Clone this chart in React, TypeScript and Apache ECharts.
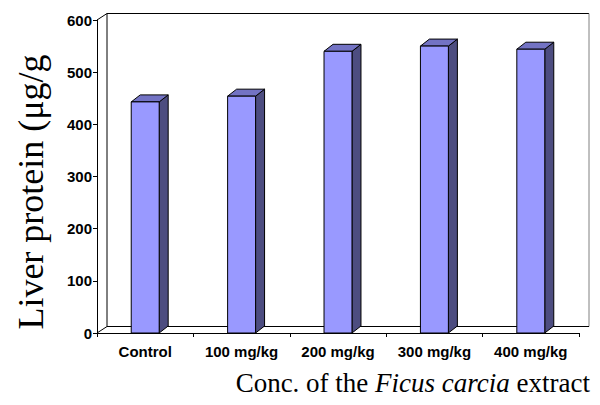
import React, { useEffect, useRef } from "react";
import * as echarts from "echarts";

const categories = ["Control", "100 mg/kg", "200 mg/kg", "300 mg/kg", "400 mg/kg"];
const proteinValues = [443, 454, 540, 550, 544];
const yTicks = [0, 100, 200, 300, 400, 500, 600];

const DX = 10;
const DY = -6.5;
const BDX = 9;
const BDY = -7;

export default function App() {
  const ref = useRef<HTMLDivElement>(null);
  useEffect(() => {
    const chart = echarts.init(ref.current!, null, { renderer: "svg" });
    const option: any = {
      animation: false,
      grid: { left: 97, right: 21, top: 20, bottom: 72, containLabel: false },
      xAxis: {
        type: "category",
        data: categories,
        axisLine: { lineStyle: { color: "#000", width: 1 } },
        axisTick: { show: true, length: 4, lineStyle: { color: "#000" } },
        axisLabel: {
          color: "#000",
          fontFamily: "Liberation Sans, Arial",
          fontWeight: "bold",
          fontSize: 15,
          margin: 11,
          interval: 0,
        },
        splitLine: { show: false },
      },
      yAxis: {
        type: "value",
        min: yTicks[0],
        max: yTicks[yTicks.length - 1],
        interval: 100,
        axisLine: { show: true, lineStyle: { color: "#000", width: 1 } },
        axisTick: { show: true, length: 4, lineStyle: { color: "#000" } },
        axisLabel: {
          color: "#000",
          fontFamily: "Liberation Sans, Arial",
          fontWeight: "bold",
          fontSize: 15,
          margin: 5,
        },
        splitLine: { show: false },
      },
      series: [
        {
          type: "custom",
          z: 1,
          silent: true,
          data: [0],
          renderItem: (params: any, api: any) => {
            const x0 = api.coord([0, 0]);
            const cw = api.size([1, 0])[0];
            const left = x0[0] - cw / 2;
            const right = left + cw * categories.length;
            const bottom = api.coord([0, yTicks[0]])[1];
            const top = api.coord([0, yTicks[yTicks.length - 1]])[1];
            const bl = left + DX;
            const br = right + DX;
            const bt = top + DY;
            const bb = bottom + DY;
            return {
              type: "group",
              children: [
                { type: "rect", shape: { x: bl, y: bt, width: br - bl, height: bb - bt }, style: { fill: "#fff", stroke: null } },
                { type: "line", shape: { x1: bl, y1: bt, x2: br, y2: bt }, style: { stroke: "#000", lineWidth: 1 } },
                { type: "line", shape: { x1: bl, y1: bt, x2: bl, y2: bb }, style: { stroke: "#000", lineWidth: 1 } },
                { type: "line", shape: { x1: br, y1: bt, x2: br, y2: bb }, style: { stroke: "#808080", lineWidth: 1 } },
                { type: "line", shape: { x1: bl, y1: bb, x2: br, y2: bb }, style: { stroke: "#000", lineWidth: 1 } },
                { type: "line", shape: { x1: left, y1: top, x2: bl, y2: bt }, style: { stroke: "#000", lineWidth: 1 } },
                { type: "line", shape: { x1: left, y1: bottom, x2: bl, y2: bb }, style: { stroke: "#000", lineWidth: 1 } },
              ],
            };
          },
        },
        {
          type: "custom",
          z: 2,
          data: proteinValues.map((v, i) => [i, v]),
          encode: { x: 0, y: 1 },
          renderItem: (params: any, api: any) => {
            const idx = api.value(0);
            const v = api.value(1);
            const base = api.coord([idx, 0]);
            const topPt = api.coord([idx, v]);
            const w = api.size([1, 0])[0] * 0.29;
            const xl = base[0] - w / 2;
            const xr = base[0] + w / 2;
            const yt = topPt[1];
            const yb = base[1];
            const stroke = { stroke: "#000", lineWidth: 1, lineJoin: "round" };
            return {
              type: "group",
              children: [
                {
                  type: "polygon",
                  shape: { points: [[xr, yt], [xr + BDX, yt + BDY], [xr + BDX, yb + BDY], [xr, yb]] },
                  style: { fill: "#4D4D80", ...stroke },
                },
                {
                  type: "polygon",
                  shape: { points: [[xl, yt], [xl + BDX, yt + BDY], [xr + BDX, yt + BDY], [xr, yt]] },
                  style: { fill: "#7373C4", ...stroke },
                },
                {
                  type: "rect",
                  shape: { x: xl, y: yt, width: w, height: yb - yt },
                  style: { fill: "#9999FF", ...stroke },
                },
              ],
            };
          },
        },
      ],
      graphic: [
        {
          type: "text",
          x: 31,
          y: 192,
          rotation: Math.PI / 2,
          style: {
            text: "Liver protein (μg/g",
            fontFamily: "Liberation Serif, Times New Roman",
            fontSize: 36,
            fill: "#000",
            align: "center",
            verticalAlign: "middle",
          },
        },
        {
          type: "text",
          x: 590,
          y: 383,
          style: {
            text: "{n|Conc. of the }{i|Ficus carcia}{n| extract}",
            align: "right",
            verticalAlign: "middle",
            rich: {
              n: { fontFamily: "Liberation Serif, Times New Roman", fontSize: 27, fill: "#000" },
              i: { fontFamily: "Liberation Serif, Times New Roman", fontSize: 27, fontStyle: "italic", fill: "#000" },
            },
          },
        },
      ],
    };
    chart.setOption(option);
    return () => chart.dispose();
  }, []);
  return <div ref={ref} style={{ width: 600, height: 405, position: "absolute", left: 0, top: 0 }} />;
}
